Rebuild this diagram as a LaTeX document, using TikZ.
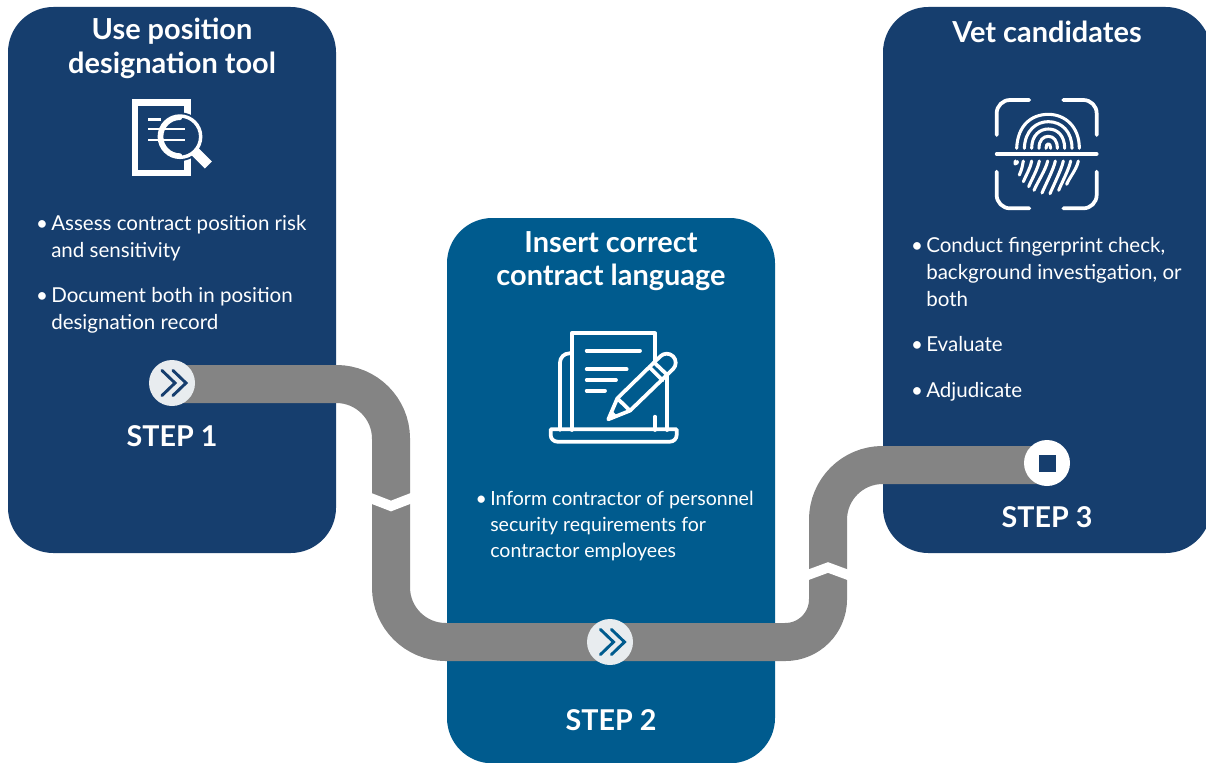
\documentclass[tikz,border=0pt]{standalone}
\usepackage{fontspec}
\setmainfont{Lato}
\usetikzlibrary{calc}
\definecolor{navy}{HTML}{163E6E}
\definecolor{teal}{HTML}{005B8E}
\definecolor{pipegrey}{HTML}{848484}
\definecolor{dotgrey}{HTML}{E8ECEF}
\pgfdeclarelayer{bg}
\pgfsetlayers{bg,main}
\tikzset{
  panel/.style={inner sep=0pt,outer sep=0pt,minimum width=246pt,minimum height=409.5pt,rounded corners=34pt,anchor=north west},
  titletext/.style={text=white,font=\fontsize{21.7}{25}\selectfont\bfseries,align=center,inner sep=0pt},
  steptext/.style={text=white,font=\fontsize{21.5}{24}\selectfont\bfseries,inner sep=0pt},
  bodytext/.style={text=white,font=\fontsize{15.4}{20.25}\selectfont,align=left,inner sep=0pt,anchor=base west},
  bodysmall/.style={bodytext,font=\fontsize{14.65}{20}\selectfont},
  dot/.style={circle,inner sep=0pt,minimum size=34.5pt},
  pipe/.style={draw=pipegrey,line width=28.5pt,rounded corners=41pt},
  gap/.style={draw=white,line width=7.5pt},
  chev/.style={line width=2.2pt,line cap=round,line join=miter},
  thin/.style={draw=white,line width=2.8pt,line cap=round,line join=round},
  print/.style={draw=white,line width=2.3pt,line cap=round,line join=round}
}
\newcommand{\bul}{\llap{\textbullet\hspace{2.5pt}}}
\begin{document}
\begin{tikzpicture}[x=0.75pt,y=-0.75pt]
\useasboundingbox (0,0) rectangle (1206,763);
\begin{pgfonlayer}{bg}
\fill[white] (0,0) rectangle (1206,763);
\node[panel,fill=navy] (p1) at (8,7) {};
\node[panel,fill=teal,minimum height=409pt] (p2) at (447,218) {};
\node[panel,fill=navy] (p3) at (883,7) {};
\end{pgfonlayer}
\node[dot,fill=dotgrey] (d1) at (172,383) {};
\node[dot,fill=dotgrey] (d2) at (610,642) {};
\node[dot,fill=white] (d3) at (1047,463) {};
\begin{pgfonlayer}{bg}
\draw[pipe] ($(d1.center)+(0,1)$) -- (391,384) -- (391,642) -- (d2.center);
\draw[pipe] (d2.center) [rounded corners=32pt] -- (828,642) [rounded corners=41pt] -- (828,465) -- ($(d3.center)+(0,2)$);
\draw[gap] (369,497.5) -- (391,506) -- (413,497.5);
\draw[gap] (805,576) -- (828,567.5) -- (851,576);
\end{pgfonlayer}
% chevrons
\draw[chev,navy] ($(d1)+(-10,-12.5)$) -- ($(d1)+(3,0)$) -- ($(d1)+(-10,12.5)$);
\draw[chev,navy] ($(d1)+(1,-12.5)$) -- ($(d1)+(14,0)$) -- ($(d1)+(1,12.5)$);
\draw[chev,teal] ($(d2)+(-9.5,-12.5)$) -- ($(d2)+(3.5,0)$) -- ($(d2)+(-9.5,12.5)$);
\draw[chev,teal] ($(d2)+(1.5,-12.5)$) -- ($(d2)+(14.5,0)$) -- ($(d2)+(1.5,12.5)$);
\fill[navy] ($(d3)+(-8.5,-8.5)$) rectangle ($(d3)+(8.5,8.5)$);
% titles
\node[titletext] (t1) at (172,48.5) {Use position\\designation tool};
\node[titletext] (t2) at (611,261) {Insert correct\\contract language};
\node[titletext] (t3) at (1047,31.5) {Vet candidates};
\node[steptext] (s1) at (172,436) {STEP 1};
\node[steptext] (s2) at (611,720) {STEP 2};
\node[steptext] (s3) at (1047,517) {STEP 3};
% body
\node[bodytext] (b1) at (51,230) {\bul Assess contract position risk};
\node[bodytext] (b1b) at (51,257) {and sensitivity};
\node[bodytext] (b2) at (51,302) {\bul Document both in position};
\node[bodytext] (b2b) at (51,329) {designation record};
\node[bodysmall] (b3) at (490,505) {\bul Inform contractor of personnel};
\node[bodysmall] (b3b) at (490,531) {security requirements for};
\node[bodysmall] (b3c) at (490,557) {contractor employees};
\node[bodytext] (b4) at (926,252) {\bul Conduct fingerprint check,};
\node[bodytext] (b4b) at (926,279) {background investigation, or};
\node[bodytext] (b4c) at (926,306) {both};
\node[bodytext] (b5) at (926,351) {\bul Evaluate};
\node[bodytext] (b6) at (926,397) {\bul Adjudicate};
% icon 1
\begin{scope}[shift={(100,80)},x=0.25pt,y=-0.25pt]
\draw[draw=white,line width=5pt,miter limit=10] (105,67) rectangle (263,279);
\fill[navy] (240,170) circle (73);
\draw[draw=white,line width=2.6pt] (240,170) circle (62);
\draw[white,line width=3pt,line cap=round] (240,114) arc (-90:-270:56);
\draw[white,line width=2.2pt] (145,118) -- (182,118) (145,147) -- (255,147) (145,180) -- (255,180);
\draw[white,line width=7.5pt] (284,214) -- (325,255);
\end{scope}
% icon 2
\begin{scope}[shift={(530,320)},x=0.25pt,y=-0.25pt]
\draw[thin] (125,330) -- (125,40) -- (375,40) -- (375,150);
\draw[thin] (375,290) -- (375,330);
\draw[thin] (125,100) -- (118,100) arc (-90:-180:28) -- (90,330);
\draw[thin] (412,155) -- (412,330);
\draw[thin] (62,328) -- (440,328) -- (440,345) arc (0:90:20) -- (82,365) arc (90:180:20) -- cycle;
\draw[thin] (170,92) -- (330,92) (170,148) -- (290,148) (170,180) -- (258,180) (170,212) -- (225,212);
\draw[thin,fill=teal] (235,298) -- (262,235) -- (391,109) arc (-135:45:27) -- (300,272) -- cycle;
\draw[thin] (262,235) -- (300,272) (358,141) -- (398,181) (372,127) -- (412,165);
\fill[white] (235,298) -- (246,272) -- (262,288) -- cycle;
\end{scope}
% icon 3
\begin{scope}[shift={(980,85)},x=0.25pt,y=-0.25pt]
\draw[thin] (50,150) -- (50,85) arc (180:270:40) -- (148,45);
\draw[thin] (250,45) -- (310,45) arc (270:360:40) -- (350,150);
\draw[thin] (50,260) -- (50,330) arc (180:90:40) -- (148,370);
\draw[thin] (250,370) -- (310,370) arc (90:0:40) -- (350,260);
\draw[thin] (50,207) -- (350,207);
\draw[print] (110,190) .. controls (113,120) and (155,88) .. (205,88) .. controls (255,88) and (298,125) .. (298,190);
\draw[print] (133,190) .. controls (135,135) and (170,110) .. (205,110) .. controls (245,110) and (276,140) .. (276,190);
\draw[print] (155,190) .. controls (155,150) and (180,132) .. (205,132) .. controls (235,132) and (254,155) .. (254,190);
\draw[print] (177,190) .. controls (177,165) and (190,154) .. (205,154) .. controls (222,154) and (232,168) .. (232,190);
\draw[print] (198,190) .. controls (198,172) and (212,172) .. (212,190);
\foreach \a/\b/\c/\d in {106/228/110/236, 130/228/118/270, 155/228/130/290, 178/228/146/305, 203/228/162/316, 226/228/186/324, 250/228/210/326, 272/228/236/316, 295/228/260/298}
  \draw[print] (\a,\b) .. controls ({\a-5},{\b+25}) and ({\c+8},{\d-20}) .. (\c,\d);
\end{scope}
\end{tikzpicture}
\end{document}
